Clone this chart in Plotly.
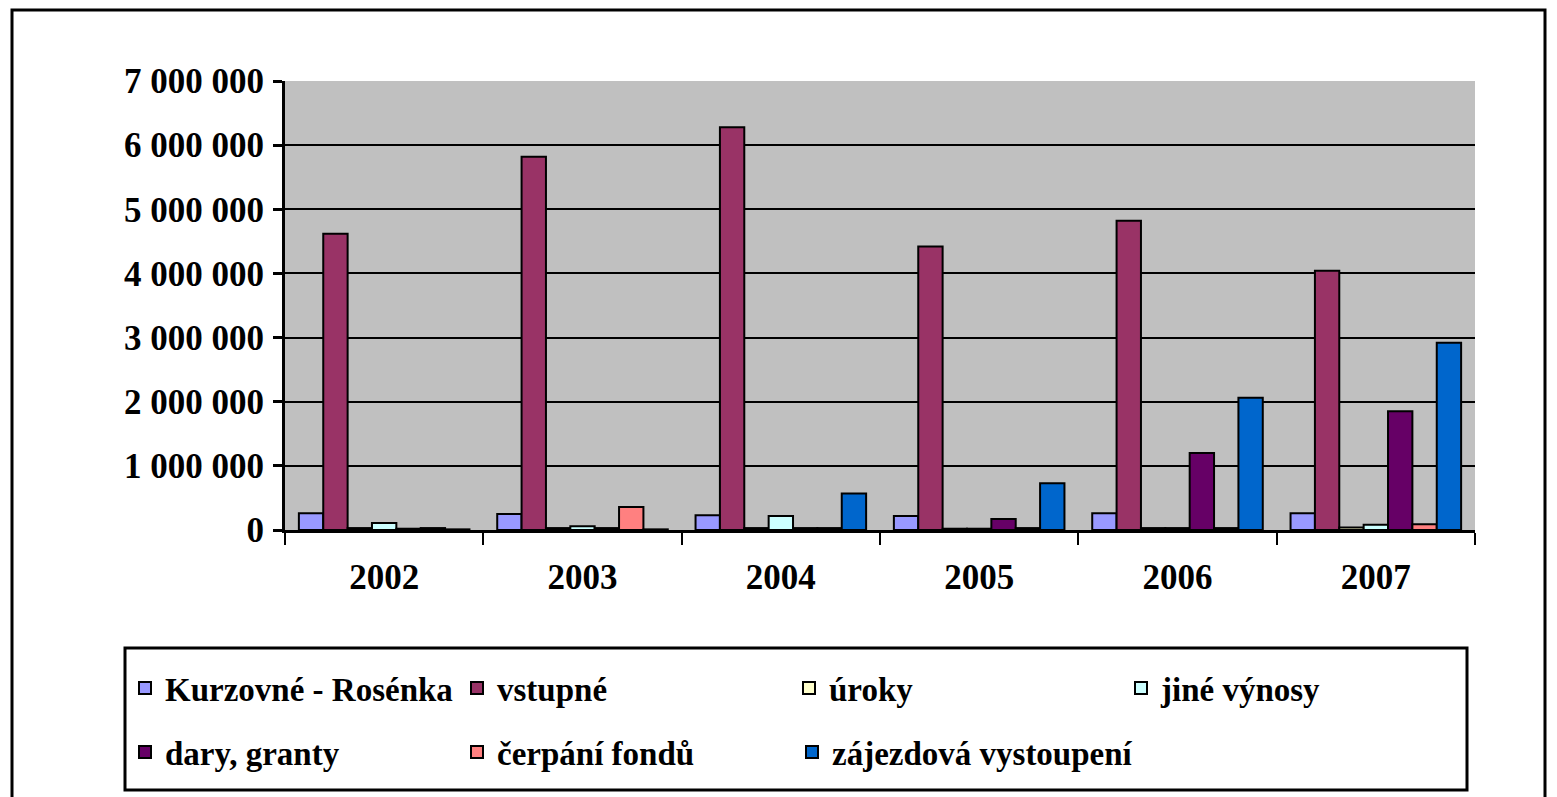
import plotly.graph_objects as go

years = ["2002", "2003", "2004", "2005", "2006", "2007"]
series_names = ["Kurzovné - Rosénka", "vstupné", "úroky", "jiné výnosy",
                "dary, granty", "čerpání fondů", "zájezdová vystoupení"]
kurzovne = [260000, 250000, 230000, 220000, 260000, 260000]
vstupne = [4620000, 5820000, 6280000, 4420000, 4820000, 4040000]
uroky = [30000, 30000, 30000, 20000, 30000, 40000]
jine_vynosy = [110000, 60000, 220000, 20000, 30000, 80000]
dary_granty = [20000, 30000, 30000, 170000, 1200000, 1850000]
cerpani_fondu = [30000, 360000, 30000, 30000, 30000, 90000]
zajezdova = [10000, 10000, 570000, 730000, 2060000, 2920000]
colors = ["#9999FF", "#993366", "#FFFFCC", "#CCFFFF", "#660066", "#FF8080", "#0066CC"]

values = [kurzovne, vstupne, uroky, jine_vynosy, dary_granty, cerpani_fondu, zajezdova]
legend_ids = ["legend", "legend", "legend", "legend", "legend2", "legend2", "legend3"]

OFF = 8  # page body margin
FW, FH = 1557 - OFF, 797 - OFF
# plot area in reference pixel coords
L, R, T, B = 285, 1475, 81, 530
W, H = R - L, B - T


def px_x(p):
    return (p - L) / W


def px_y(p):
    return (B - p) / H


FONT = "Liberation Serif"

fig = go.Figure()
for name, vals, col, lg in zip(series_names, values, colors, legend_ids):
    fig.add_trace(go.Bar(
        x=years, y=vals, name=name,
        marker=dict(color=col, line=dict(color="black", width=2)),
        legend=lg,
    ))

legend_common = dict(
    orientation="h",
    xanchor="left", yanchor="middle",
    entrywidth=287, entrywidthmode="pixels",
    bgcolor="rgba(0,0,0,0)", borderwidth=0,
    font=dict(family=FONT, size=33, color="black", weight="bold"),
    traceorder="normal",
)
legend_last = dict(legend_common, entrywidth=0)

fig.update_layout(
    width=FW, height=FH,
    margin=dict(l=L - OFF, r=FW - (R - OFF), t=T - OFF, b=FH - (B - OFF)),
    paper_bgcolor="white",
    plot_bgcolor="#C0C0C0",
    barmode="group",
    bargap=0.14,
    bargroupgap=0,
    separators=". ",
    font=dict(family=FONT, color="black", weight="bold"),
    xaxis=dict(
        type="category",
        range=[-0.5, 5.5],
        showline=True, linecolor="black", linewidth=3,
        ticks="outside", tickson="boundaries", ticklen=12, tickwidth=2, tickcolor="black",
        ticklabelstandoff=14,
        tickfont=dict(family=FONT, size=35, color="black", weight="bold"),
        showgrid=False,
    ),
    yaxis=dict(
        range=[0, 7000000],
        tickvals=[0, 1000000, 2000000, 3000000, 4000000, 5000000, 6000000, 7000000],
        tickformat=",d",
        showline=True, linecolor="black", linewidth=3,
        ticks="outside", ticklen=9, tickwidth=3, tickcolor="black",
        showgrid=True, gridcolor="black", gridwidth=2,
        zeroline=False,
        ticklabelstandoff=2,
        tickfont=dict(family=FONT, size=35, color="black", weight="bold"),
    ),
    legend=dict(legend_common, x=px_x(125), y=px_y(688)),
    legend2=dict(legend_common, x=px_x(125), y=px_y(752)),
    legend3=dict(legend_last, x=px_x(792), y=px_y(752)),
    shapes=[
        dict(type="rect", xref="paper", yref="paper",
             x0=px_x(12), x1=px_x(1545), y0=px_y(810), y1=px_y(10),
             line=dict(color="black", width=3), fillcolor="rgba(0,0,0,0)", layer="below"),
        dict(type="rect", xref="paper", yref="paper",
             x0=px_x(125), x1=px_x(1467), y0=px_y(790), y1=px_y(648),
             line=dict(color="black", width=3), fillcolor="rgba(0,0,0,0)"),
    ],
)

fig.write_html("out.html")
